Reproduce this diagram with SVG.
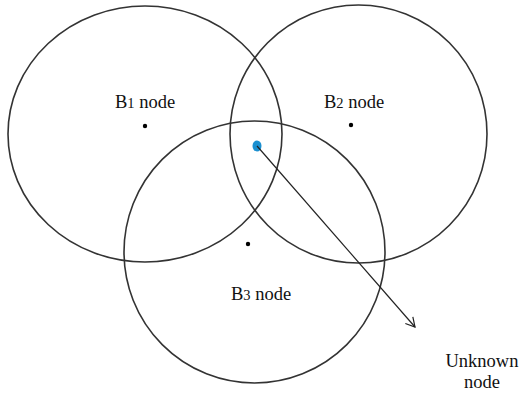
<svg xmlns="http://www.w3.org/2000/svg" width="523" height="394" viewBox="0 0 523 394">
<style>
.c{fill:none;stroke:#333;stroke-width:1.6}
.d{fill:#000}
.t{font-family:"Liberation Serif","Times New Roman",serif;font-size:18.5px;fill:#111}
.s{font-size:14.5px}
</style>
<defs>
<marker id="ah" markerWidth="12" markerHeight="12" refX="10" refY="6" orient="auto" markerUnits="userSpaceOnUse">
<path d="M1,1 L10,6 L1,11" fill="none" stroke="#222" stroke-width="1.2"/>
</marker>
</defs>
<rect width="523" height="394" fill="#fff"/>
<g id="B1">
<ellipse class="c" cx="145" cy="134" rx="137" ry="128"/>
<circle class="d" cx="145" cy="126" r="2.2"/>
<text class="t" x="115" y="108">B<tspan class="s">1</tspan> node</text>
</g>
<g id="B2">
<ellipse class="c" cx="358.5" cy="134" rx="128.5" ry="129"/>
<circle class="d" cx="351" cy="125" r="2.2"/>
<text class="t" x="324" y="108">B<tspan class="s">2</tspan> node</text>
</g>
<g id="B3">
<ellipse class="c" cx="254.5" cy="252" rx="130.5" ry="131"/>
<circle class="d" cx="248" cy="244" r="2.2"/>
<text class="t" x="231" y="300">B<tspan class="s">3</tspan> node</text>
</g>
<g id="unknown">
<ellipse cx="257" cy="146" rx="4.5" ry="5.5" fill="#1a8fd0"/>
<text class="t" x="482" y="367" text-anchor="middle">Unknown</text>
<text class="t" x="482" y="388" text-anchor="middle">node</text>
</g>
<g id="connectors">
<line x1="257" y1="146" x2="415" y2="327" stroke="#222" stroke-width="1.2" marker-end="url(#ah)"/>
</g>
</svg>
